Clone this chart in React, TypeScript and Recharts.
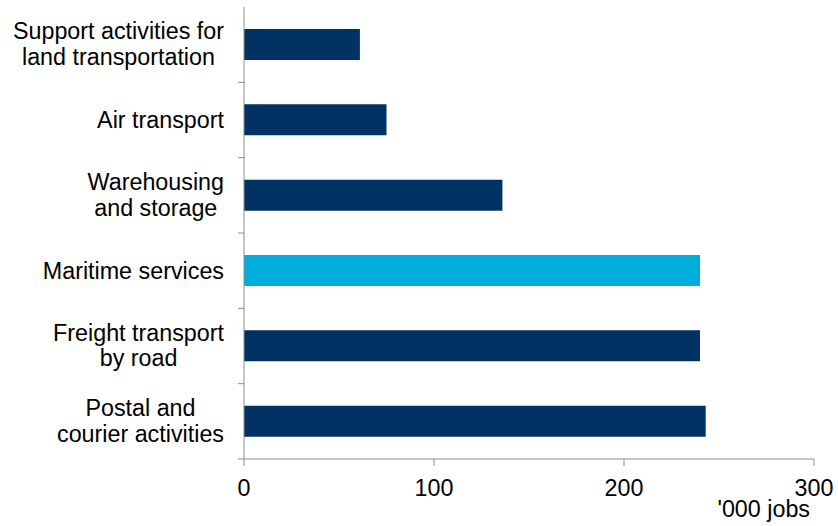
import { Bar, BarChart, Cell, XAxis, YAxis, Label } from 'recharts'

const categories = [
  'Support activities for\nland transportation',
  'Air transport',
  'Warehousing\nand storage',
  'Maritime services',
  'Freight transport\nby road',
  'Postal and\ncourier activities'
]
const jobs = [61, 75, 136, 240, 240, 243]
const highlighted = 'Maritime services'
const xTicks = [0, 100, 200, 300]
const unitLabel = "'000 jobs"

const FONT = '"Liberation Sans", Arial, sans-serif'
const FONT_SIZE = 23.3
const DARK = '#003263'
const LIGHT = '#00AEDC'
const AXIS = '#8c8c8c'

const data = categories.map((name, i) => ({ name, value: jobs[i] }))

const CHART_TOP = 7
const CHART_BOTTOM = 67
const BAND = (526 - CHART_TOP - CHART_BOTTOM) / categories.length

let ctx: CanvasRenderingContext2D | null = null
function textWidth(s: string) {
  if (!ctx) ctx = document.createElement('canvas').getContext('2d')
  if (!ctx) return s.length * 11
  ctx.font = `${FONT_SIZE}px ${FONT}`
  return ctx.measureText(s).width
}

// multi-line category label, lines centred, block right-aligned to the axis
function CategoryTick(props: any) {
  const { x, y, payload } = props
  const lines: string[] = String(payload.value).split('\n')
  const maxW = Math.max(...lines.map(textWidth))
  const cx = x - maxW / 2
  const axisX = x + 20
  const shift = lines.length > 1 ? 7.5 : 8
  return (
    <g>
      {lines.map((line, i) => (
        <text
          key={i}
          x={cx}
          y={y + (i - (lines.length - 1) / 2) * 25.5 + shift}
          textAnchor="middle"
          fontSize={FONT_SIZE}
          fontFamily={FONT}
          fill="#000"
        >
          {line}
        </text>
      ))}
      <line x1={axisX - 6} x2={axisX} y1={y + BAND / 2} y2={y + BAND / 2} stroke={AXIS} />
    </g>
  )
}

export default function App() {
  return (
    <div style={{ position: 'absolute', left: 0, top: 0 }}>
      <BarChart
        layout="vertical"
        width={838}
        height={526}
        data={data}
        margin={{ top: CHART_TOP, right: 24, bottom: 0, left: 0 }}
      >
        <XAxis
          type="number"
          domain={[0, 300]}
          ticks={xTicks}
          height={CHART_BOTTOM}
          tickSize={7}
          tickMargin={13}
          stroke={AXIS}
          tick={{ fill: '#000', fontSize: FONT_SIZE, fontFamily: FONT }}
        >
          <Label
            value={unitLabel}
            position="insideBottomRight"
            content={(p: any) => (
              <text
                x={p.viewBox.x + p.viewBox.width - 4}
                y={p.viewBox.y + 58}
                textAnchor="end"
                fontSize={FONT_SIZE}
                fontFamily={FONT}
                fill="#000"
              >
                {unitLabel}
              </text>
            )}
          />
        </XAxis>
        <YAxis
          type="category"
          dataKey="name"
          width={244}
          tickLine={false}
          tickSize={6}
          tickMargin={14}
          stroke={AXIS}
          interval={0}
          tick={<CategoryTick />}
        />
        <Bar dataKey="value" barSize={31} isAnimationActive={false}>
          {data.map((d) => (
            <Cell key={d.name} fill={d.name === highlighted ? LIGHT : DARK} />
          ))}
        </Bar>
      </BarChart>
    </div>
  )
}
